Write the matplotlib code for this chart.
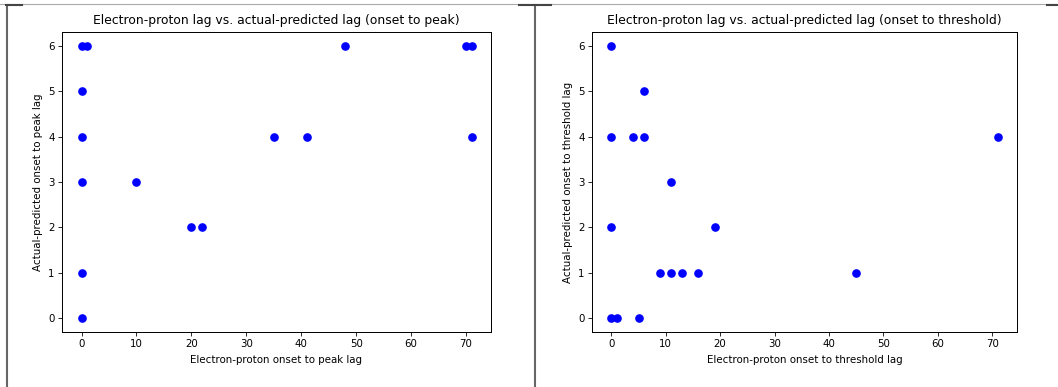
import matplotlib
matplotlib.use("Agg")
import matplotlib.pyplot as plt
from matplotlib.lines import Line2D

# onset to peak
peak_lag = [0, 1, 0, 0, 0, 0, 0, 10, 20, 22, 35, 41, 48, 70, 71, 71]
peak_diff = [6, 6, 5, 4, 3, 1, 0, 3, 2, 2, 4, 4, 6, 6, 6, 4]

# onset to threshold
thr_lag = [0, 0, 0, 0, 1, 4, 5, 6, 6, 9, 11, 11, 13, 16, 19, 45, 71]
thr_diff = [6, 4, 2, 0, 0, 4, 0, 5, 4, 1, 1, 3, 1, 1, 2, 1, 4]


def main():
    W, H = 1058, 387
    s = 0.74  # screenshot was scaled down
    plt.rcParams['axes.linewidth'] = 0.8 * s * 1.2
    plt.rcParams['xtick.major.size'] = 3.5 * s
    plt.rcParams['ytick.major.size'] = 3.5 * s
    plt.rcParams['xtick.major.width'] = 0.8 * s
    plt.rcParams['ytick.major.width'] = 0.8 * s
    plt.rcParams['xtick.major.pad'] = 3.5 * s
    plt.rcParams['ytick.major.pad'] = 3.5 * s
    fig = plt.figure(figsize=(W / 100, H / 100), dpi=100)

    ax1 = fig.add_axes([62 / W, 1 - 332 / H, (491 - 62) / W, 300 / H])
    ax1.plot(peak_lag, peak_diff, 'bo', markersize=5.2)
    ax1.set_title("Electron-proton lag vs. actual-predicted lag (onset to peak)", fontsize=12 * s)
    ax1.set_xlabel("Electron-proton onset to peak lag", fontsize=10 * s)
    ax1.set_ylabel("Actual-predicted onset to peak lag", fontsize=10 * s)
    ax1.set_xticks([0, 10, 20, 30, 40, 50, 60, 70])
    ax1.tick_params(labelsize=10 * s)

    ax2 = fig.add_axes([592 / W, 1 - 332 / H, (1017 - 592) / W, 300 / H])
    ax2.plot(thr_lag, thr_diff, 'bo', markersize=5.2)
    ax2.set_title("Electron-proton lag vs. actual-predicted lag (onset to threshold)", fontsize=12 * s)
    ax2.set_xlabel("Electron-proton onset to threshold lag", fontsize=10 * s)
    ax2.set_ylabel("Actual-predicted onset to threshold lag", fontsize=10 * s)
    ax2.set_xticks([0, 10, 20, 30, 40, 50, 60, 70])
    ax2.tick_params(labelsize=10 * s)

    # screenshot frame lines
    def px_line(xs, ys, color, lw):
        fig.add_artist(Line2D([x / W for x in xs], [1 - y / H for y in ys],
                              color=color, lw=lw, transform=fig.transFigure))

    px_line([0, W], [4, 4], '#aaaaaa', 0.8)
    px_line([6.5, 6.5], [5, H], '#666666', 1.5)
    px_line([534.5, 534.5], [5, H], '#666666', 1.5)
    px_line([6, 22], [5, 5], '#444444', 1.5)
    px_line([519, 551], [5, 5], '#444444', 1.5)
    px_line([1047, W], [5, 5], '#444444', 1.5)

    fig.savefig("out.png", dpi=100)


if __name__ == '__main__':
    main()
